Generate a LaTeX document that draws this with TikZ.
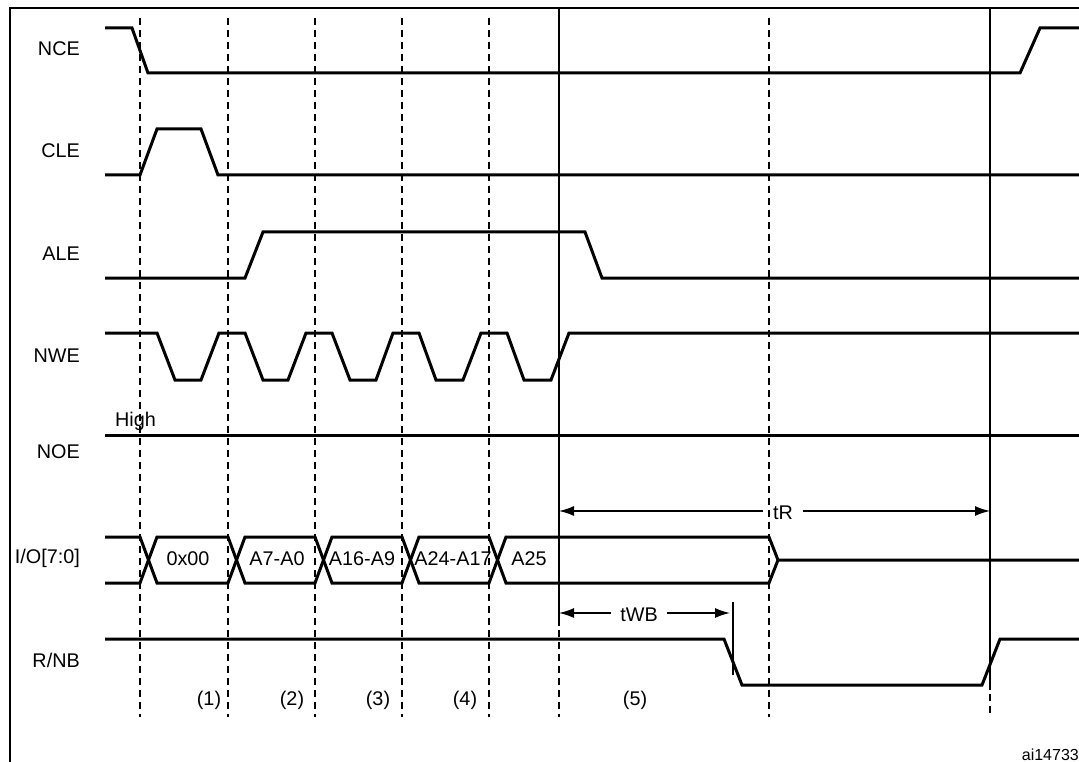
\documentclass[tikz,border=0pt]{standalone}
\usepackage{fontspec}
\setmainfont{Liberation Sans}
\usetikzlibrary{arrows.meta}
\begin{document}
\begin{tikzpicture}[x=1pt,y=-1pt,
  sig/.style={line width=3pt, line join=miter, line cap=butt},
  gridline/.style={line width=1.4pt, dash pattern=on 7pt off 5pt},
  markline/.style={line width=1.4pt},
  lbl/.style={font=\fontsize{19.8pt}{24pt}\selectfont, inner sep=0pt},
  dim/.style={line width=1.5pt, -{Latex[length=15pt,width=10pt]}},
]
\useasboundingbox (0,0) rectangle (1079,762);
% frame (cropped)
\draw[line width=2pt] (10,762) -- (10,8) -- (1079,8);

% grid lines
\foreach \x in {140,228,315,402,489,769}
  \draw[gridline] (\x,18) -- (\x,717);
\draw[markline] (559,8) -- (559,626);
\draw[gridline] (559,630) -- (559,717);
\draw[markline] (990,8) -- (990,690);
\draw[gridline] (990,694) -- (990,717);

% signal names
\node[lbl, anchor=base east] (nce) at (80,56) {NCE};
\node[lbl, anchor=base east] (cle) at (80,158) {CLE};
\node[lbl, anchor=base east] (ale) at (80,260) {ALE};
\node[lbl, anchor=base east] (nwe) at (80,362) {NWE};
\node[lbl, anchor=base east] (noe) at (80,458) {NOE};
\node[lbl, anchor=base east] (io)  at (80,563) {I/O[7:0]};
\node[lbl, anchor=base east] (rnb) at (80,667) {R/NB};
\node[lbl, anchor=base west] (high) at (115,426) {High};

% waveforms
\draw[sig] (105,28)--(132,28)--(148,73)--(1020,73)--(1040,28)--(1079,28);
\draw[sig] (105,175)--(140,175)--(157,129)--(201,129)--(218,175)--(1079,175);
\draw[sig] (105,278)--(245,278)--(263,232)--(585,232)--(602,278)--(1079,278);
\draw[sig] (105,333)--(157,333)--(175,380)--(201,380)--(219,333)--(245,333)--(263,380)--(288,380)--(306,333)--(332,333)--(350,380)--(376,380)--(393,333)--(419,333)--(436,380)--(463,380)--(481,333)--(507,333)--(524,380)--(551,380)--(569,333)--(1079,333);
\draw[sig] (105,435)--(1079,435);
\draw[sig] (105,537)--(140,537)--(157,583)--(228,583)--(245,537)--(315,537)--(332,583)--(402,583)--(419,537)--(489,537)--(506,583)--(769,583)--(778,560)--(1079,560);
\draw[sig] (105,583)--(140,583)--(157,537)--(228,537)--(245,583)--(315,583)--(332,537)--(402,537)--(419,583)--(489,583)--(506,537)--(769,537)--(778,560);
\draw[sig] (105,639)--(724,639)--(742,685)--(982,685)--(1000,639)--(1079,639);

% bus values
\node[lbl, anchor=base] (b0) at (188,565) {0x00};
\node[lbl, anchor=base] (b1) at (277,565) {A7-A0};
\node[lbl, anchor=base] (b2) at (362,565) {A16-A9};
\node[lbl, anchor=base] (b3) at (453,565) {A24-A17};
\node[lbl, anchor=base] (b4) at (529,565) {A25};

% phase numbers
\node[lbl, anchor=base] (p1) at (209,705) {(1)};
\node[lbl, anchor=base] (p2) at (292,705) {(2)};
\node[lbl, anchor=base] (p3) at (378,705) {(3)};
\node[lbl, anchor=base] (p4) at (465,705) {(4)};
\node[lbl, anchor=base] (p5) at (635,705) {(5)};

% tR
\coordinate (r5) at (559,511);
\coordinate (r6) at (990,511);
\node[lbl, anchor=base west, inner xsep=10pt] (tr) at (763,519) {tR};
\draw[dim] (tr.west |- r5) -- (r5);
\draw[dim] (tr.east |- r6) -- (r6);

% tWB
\coordinate (w5) at (559,613);
\coordinate (w6) at (730,613);
\node[lbl, anchor=base, inner xsep=9pt] (twb) at (639,621) {tWB};
\draw[dim] (twb.west |- w5) -- (w5);
\draw[dim] (twb.east |- w6) -- (w6);
\coordinate (k1) at (733,602);
\coordinate (k2) at (733,675);
\draw[markline] (k1) -- (k2);

% figure id
\node[font=\fontsize{16pt}{19pt}\selectfont, inner sep=0pt, anchor=base east] (ai) at (1079,760) {ai14733};
\end{tikzpicture}
\end{document}
